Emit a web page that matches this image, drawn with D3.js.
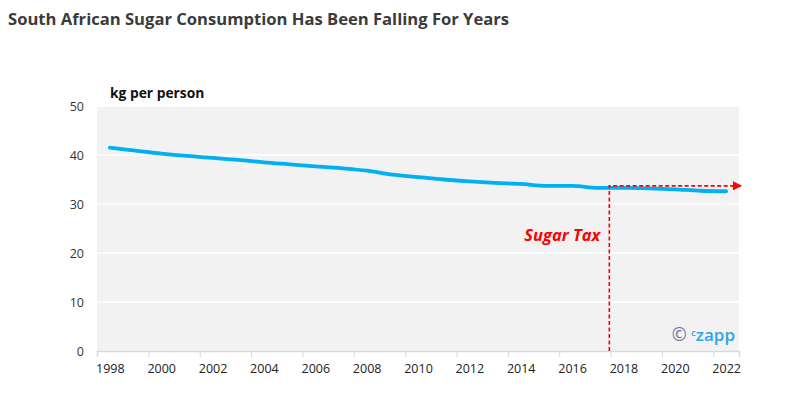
<!DOCTYPE html>
<html lang="en">
<head>
<meta charset="utf-8">
<title>South African Sugar Consumption</title>
<script src="https://cdn.jsdelivr.net/npm/d3@7"></script>
<style>
  body { margin: 0; background: #fff; }
  text { font-family: "Open Sans", sans-serif; }
</style>
</head>
<body>
<div id="chart"></div>
<script>
// sugar consumption, kg per person
var years = [1998, 1999, 2000, 2001, 2002, 2003, 2004, 2005, 2006, 2007, 2008, 2009, 2010,
             2011, 2012, 2013, 2014, 2015, 2016, 2017, 2018, 2019, 2020, 2021, 2022];
var kgPerPerson = [41.5, 40.9, 40.3, 39.8, 39.4, 39.0, 38.5, 38.1, 37.7, 37.3, 36.8, 36.0, 35.5,
                   35.0, 34.6, 34.3, 34.1, 33.7, 33.7, 33.3, 33.3, 33.2, 33.0, 32.7, 32.6];
var yTicks = [0, 10, 20, 30, 40, 50];
var xLabels = [1998, 2000, 2002, 2004, 2006, 2008, 2010, 2012, 2014, 2016, 2018, 2020, 2022];
var taxYear = 2017.45;
var taxLevel = 33.7;

var width = 799, height = 399;
var plot = {left: 97, right: 739, top: 106, bottom: 351};

var svg = d3.select("#chart").append("svg")
    .attr("width", width)
    .attr("height", height);

// years are categories, so the domain runs half a year past each end
var x = d3.scaleLinear()
    .domain([years[0] - 0.5, years[years.length - 1] + 0.5])
    .range([plot.left, plot.right]);

var y = d3.scaleLinear()
    .domain([0, 50])
    .range([plot.bottom, plot.top]);

svg.append("text")
    .attr("x", 8).attr("y", 25)
    .attr("font-size", 16.6)
    .attr("font-weight", 700)
    .attr("fill", "#3b3b3b")
    .text("South African Sugar Consumption Has Been Falling For Years");

svg.append("rect")
    .attr("x", plot.left).attr("y", plot.top)
    .attr("width", plot.right - plot.left)
    .attr("height", plot.bottom - plot.top)
    .attr("fill", "#f2f2f2");

// white gridlines
svg.append("g")
    .selectAll("line")
    .data(yTicks.slice(1))
    .enter().append("line")
    .attr("x1", plot.left).attr("x2", plot.right)
    .attr("y1", function(d) { return y(d); })
    .attr("y2", function(d) { return y(d); })
    .attr("stroke", "#fff")
    .attr("stroke-width", 1.5);

var yAxis = svg.append("g")
    .attr("transform", "translate(" + plot.left + ",0)")
    .call(d3.axisLeft(y).tickValues(yTicks).tickSize(0).tickPadding(13));
yAxis.select(".domain").remove();
yAxis.selectAll("text")
    .attr("font-family", "Liberation Sans, sans-serif")
    .attr("font-size", 12.5)
    .attr("fill", "#333");

// tick marks sit on category boundaries, every second year
var boundaries = d3.range(years[0] - 0.5, years[years.length - 1] + 1, 2);
var xTickAxis = svg.append("g")
    .attr("transform", "translate(0," + plot.bottom + ")")
    .call(d3.axisBottom(x).tickValues(boundaries).tickSize(6).tickFormat(""));
xTickAxis.select(".domain").attr("stroke", "#d9d9d9").attr("stroke-width", 1.5);
xTickAxis.selectAll(".tick line").attr("stroke", "#d9d9d9");

var xAxis = svg.append("g")
    .attr("transform", "translate(0," + plot.bottom + ")")
    .call(d3.axisBottom(x).tickValues(xLabels).tickSize(0).tickPadding(13).tickFormat(d3.format("d")));
xAxis.select(".domain").remove();
xAxis.selectAll("text")
    .attr("font-family", "Liberation Sans, sans-serif")
    .attr("font-size", 12.5)
    .attr("fill", "#222");

svg.append("text")
    .attr("x", 110).attr("y", 98)
    .attr("font-size", 13.8)
    .attr("font-weight", 700)
    .attr("fill", "#111")
    .text("kg per person");

var line = d3.line()
    .x(function(d, i) { return x(years[i]); })
    .y(function(d) { return y(d); })
    .curve(d3.curveMonotoneX);

svg.append("path")
    .datum(kgPerPerson)
    .attr("d", line)
    .attr("fill", "none")
    .attr("stroke", "#00b0f0")
    .attr("stroke-width", 3.8)
    .attr("stroke-linecap", "round");

// sugar tax annotation
svg.append("defs").append("marker")
    .attr("id", "arrow")
    .attr("viewBox", "0 0 10 10")
    .attr("refX", 10).attr("refY", 5)
    .attr("markerWidth", 9).attr("markerHeight", 9)
    .attr("markerUnits", "userSpaceOnUse")
    .attr("orient", "auto")
    .append("path")
    .attr("d", "M0,0 L10,5 L0,10 Z")
    .attr("fill", "#ff0000");

svg.append("path")
    .attr("d", "M" + x(taxYear) + "," + y(0) + " V" + y(taxLevel) + " H" + (plot.right + 3))
    .attr("fill", "none")
    .attr("stroke", "#ff0000")
    .attr("stroke-width", 1.6)
    .attr("stroke-dasharray", "4,2.5")
    .attr("marker-end", "url(#arrow)");

svg.append("text")
    .attr("x", x(taxYear) - 9).attr("y", 241)
    .attr("text-anchor", "end")
    .attr("font-size", 16.5)
    .attr("font-weight", 700)
    .attr("font-style", "italic")
    .attr("fill", "#ff0000")
    .text("Sugar Tax");

// czapp logo
var logo = svg.append("text")
    .attr("x", 735).attr("y", 341)
    .attr("text-anchor", "end")
    .attr("font-weight", 600);
logo.append("tspan")
    .attr("font-size", 18)
    .attr("font-weight", 400)
    .attr("fill", "#6f73aa")
    .text("\u00a9 ");
logo.append("tspan")
    .attr("font-size", 9)
    .attr("dy", -5)
    .attr("fill", "#3aa0e0")
    .text("c");
logo.append("tspan")
    .attr("font-size", 17)
    .attr("dy", 5)
    .attr("fill", "#2fa4e7")
    .text("zapp");
</script>
</body>
</html>
